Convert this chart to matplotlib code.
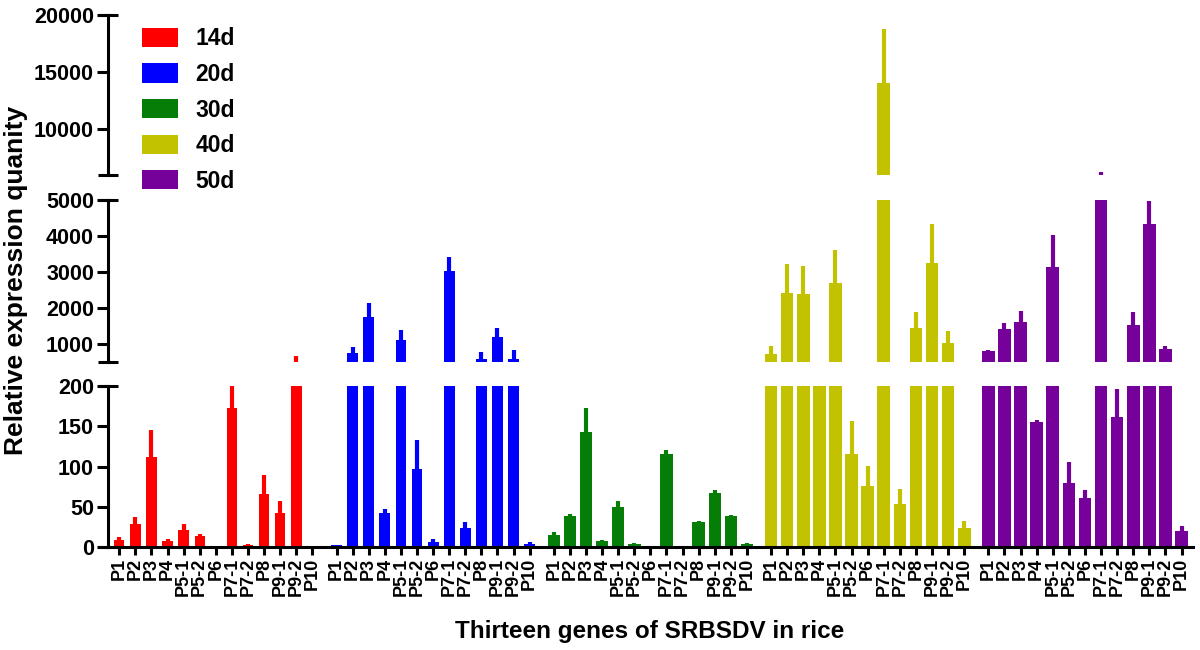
import matplotlib
matplotlib.use("Agg")
import matplotlib.pyplot as plt
import numpy as np
from matplotlib.patches import Patch

plt.rcParams["font.family"] = ["Liberation Sans", "DejaVu Sans"]
plt.rcParams["font.weight"] = "bold"

genes = ["P1", "P2", "P3", "P4", "P5-1", "P5-2", "P6", "P7-1", "P7-2", "P8", "P9-1", "P9-2", "P10"]
stages = ["14d", "20d", "30d", "40d", "50d"]
colors = ["#ff0000", "#0000ff", "#067d06", "#c2c200", "#75009a"]

mean_14d = [9, 29, 112, 7.5, 21.5, 14, 0, 173, 3, 66, 42, 400, 0]
err_14d = [3, 8, 34, 2.5, 7.5, 2, 0, 60, 1, 23, 15, 270, 0]
mean_20d = [2, 742, 1758, 42, 1111, 96.5, 6, 3036, 23, 583, 1203, 583, 4]
err_20d = [1, 183, 389, 5, 286, 36.5, 3.5, 371, 8, 203, 233, 250, 2]
mean_30d = [15, 39, 143, 7.5, 50, 4, 1.5, 115.5, 1, 30.7, 66.7, 39, 4]
err_30d = [3, 1.5, 30, 1.2, 7, 1, 0.3, 5.5, 0.3, 2, 4.3, 1, 1]
mean_40d = [714, 2408, 2389, 320, 2703, 115, 76, 14061, 53.4, 1436, 3241, 1036, 24]
err_40d = [239, 805, 786, 40, 908, 41, 25, 4696, 18.3, 461, 1111, 334, 8]
mean_50d = [800, 1417, 1602, 155.7, 3148, 79, 60.5, 5600, 161, 1528, 4333, 861, 20]
err_50d = [30, 175, 315, 2.3, 898, 27, 10.5, 650, 35, 352, 639, 83, 6]

means = [mean_14d, mean_20d, mean_30d, mean_40d, mean_50d]
errs = [err_14d, err_20d, err_30d, err_40d, err_50d]
widths = [0.65, 0.67, 0.78, 0.78, 0.78]

GROUP_STEP = 13.5
LW = 2.2

fig = plt.figure(figsize=(12, 6.5), dpi=100)
left, width = 0.09, 0.904
ax_top = fig.add_axes([left, 0.731, width, 0.246])
ax_mid = fig.add_axes([left, 0.443, width, 0.249])
ax_bot = fig.add_axes([left, 0.1585, width, 0.2475])
segments = [
    (ax_top, (6000, 20000), [10000, 15000, 20000]),
    (ax_mid, (500, 5000), [1000, 2000, 3000, 4000, 5000]),
    (ax_bot, (0, 200), [0, 50, 100, 150, 200]),
]

xpos_all = []
for g in range(len(stages)):
    x = g * GROUP_STEP + np.arange(len(genes))
    xpos_all.extend(x)
    m = np.array(means[g], dtype=float)
    e = np.array(errs[g], dtype=float)
    for ax, _, _ in segments:
        ax.bar(x, m, width=widths[g], color=colors[g], linewidth=0, zorder=2)
        ax.errorbar(x, m, yerr=[np.zeros_like(e), e], fmt="none", ecolor=colors[g],
                    elinewidth=3.0, capsize=0, zorder=2)

for ax, lim, ticks in segments:
    ax.set_xlim(-0.7, 4 * GROUP_STEP + 12.7)
    ax.set_ylim(*lim)
    ax.set_yticks(ticks)
    ax.yaxis.remove_overlapping_locs = False
    ax.set_yticks(list(lim), minor=True)
    ax.tick_params(axis="y", which="major", direction="out", length=8, width=LW,
                   labelsize=15.5, pad=2)
    ax.tick_params(axis="y", which="minor", direction="inout", length=14, width=LW)
    for s in ["top", "right", "bottom"]:
        ax.spines[s].set_visible(False)
    ax.spines["left"].set_linewidth(LW)
    ax.patch.set_alpha(0)
    for lab in ax.get_yticklabels():
        lab.set_fontweight("bold")

ax_top.set_xticks([])
ax_mid.set_xticks([])
ax_bot.spines["bottom"].set_visible(True)
ax_bot.spines["bottom"].set_linewidth(LW)
ax_bot.set_xticks(xpos_all)
ax_bot.set_xticklabels(genes * len(stages), rotation=90, fontsize=13, fontweight="bold")
ax_bot.tick_params(axis="x", direction="out", length=6, width=LW, pad=2)

fig.text(0.013, 0.569, "Relative expression quanity", rotation=90, ha="center", va="center",
         fontsize=19, fontweight="bold")
fig.text(0.541, 0.028, "Thirteen genes of SRBSDV in rice", ha="center", va="center",
         fontsize=17.5, fontweight="bold")

handles = [Patch(facecolor=c, edgecolor="none") for c in colors]
leg = fig.legend(handles, stages, loc="upper left", bbox_to_anchor=(0.118, 0.958),
                 frameon=False, fontsize=16.5, handlelength=1.6, handleheight=0.9,
                 labelspacing=0.55, handletextpad=0.75, borderpad=0, borderaxespad=0)
for t in leg.get_texts():
    t.set_fontweight("bold")

fig.savefig("out.png", dpi=100)
